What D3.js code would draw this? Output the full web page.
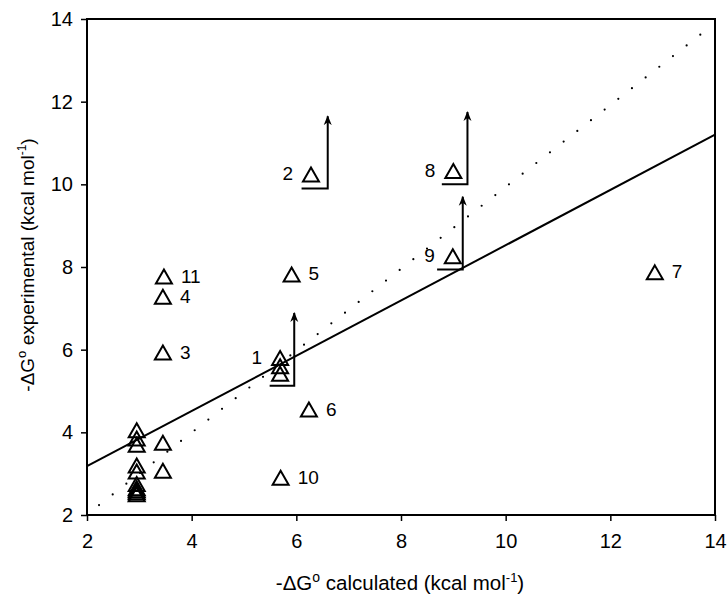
<!DOCTYPE html>
<html>
<head>
<meta charset="utf-8">
<script src="https://cdn.jsdelivr.net/npm/d3@7"></script>
<style>
  body { margin: 0; background: #fff; }
  text { font-family: "Liberation Sans", Arial, sans-serif; fill: #000; }
</style>
</head>
<body>
<div id="canvas"></div>
<script>
// data
const calcX = [2.95, 2.95, 2.95, 2.95, 2.95, 2.95, 2.95, 2.95, 2.95, 2.95, 3.45, 3.45,
               3.47, 3.45, 3.45, 5.69, 5.69, 5.69, 6.28, 5.91, 9.0, 8.99, 12.85, 6.24, 5.70];
const expY  = [4.05, 3.85, 3.7, 3.2, 3.05, 2.75, 2.65, 2.6, 2.55, 2.5, 3.75, 3.07,
               7.77, 7.28, 5.93, 5.8, 5.6, 5.42, 10.24, 7.82, 10.32, 8.26, 7.87, 4.55, 2.9];
const ptLabel = ["", "", "", "", "", "", "", "", "", "", "", "",
                 "11", "4", "3", "1", "", "", "2", "5", "8", "9", "7", "6", "10"];
const labelSide = ["", "", "", "", "", "", "", "", "", "", "", "",
                   "right", "right", "right", "left", "", "", "left", "right", "left", "left", "right", "right", "right"];

// lower-bound markers: horizontal bar under the triangle then arrow up
const boundX0 = [5.49, 6.1, 8.78, 8.69];
const boundX1 = [5.96, 6.6, 9.27, 9.18];
const boundY0 = [5.13, 9.9, 10.0, 7.94];
const boundY1 = [6.89, 11.65, 11.75, 9.7];

// fitted line (solid) and diagonal (dotted)
const fitX = [2, 14];
const fitY = [3.18, 11.2];
const diagX = [2.23, 13.84];
const diagY = [2.24, 13.74];

const xTicks = [2, 4, 6, 8, 10, 12, 14];
const yTicks = [2, 4, 6, 8, 10, 12, 14];

const width = 728;
const height = 596;
const marginLeft = 87;
const marginRight = 13;
const marginTop = 19;
const marginBottom = 81;
const fontSize = 19;

const x = d3.scaleLinear().domain([2, 14]).range([marginLeft, width - marginRight]);
const y = d3.scaleLinear().domain([2, 14]).range([height - marginBottom, marginTop]);

const svg = d3.select("#canvas")
    .append("svg")
    .attr("width", width)
    .attr("height", height)
    .attr("viewBox", [0, 0, width, height]);

// frame
svg.append("rect")
    .attr("x", x(2)).attr("y", y(14))
    .attr("width", x(14) - x(2)).attr("height", y(2) - y(14))
    .attr("fill", "none").attr("stroke", "#000").attr("stroke-width", 2);

// axes
svg.append("g")
    .attr("transform", `translate(0,${y(2)})`)
    .call(d3.axisBottom(x).tickValues(xTicks).tickSize(6).tickPadding(13))
    .call(g => g.select(".domain").remove())
    .call(g => g.selectAll("line").attr("stroke-width", 1.5))
    .call(g => g.selectAll("text").attr("font-size", fontSize + 1).attr("font-family", "Liberation Sans, Arial, sans-serif"));

svg.append("g")
    .attr("transform", `translate(${x(2)},0)`)
    .call(d3.axisLeft(y).tickValues(yTicks).tickSize(6).tickPadding(8))
    .call(g => g.select(".domain").remove())
    .call(g => g.selectAll("line").attr("stroke-width", 1.5))
    .call(g => g.selectAll("text").attr("font-size", fontSize + 1).attr("font-family", "Liberation Sans, Arial, sans-serif"));

// axis titles
const xTitle = svg.append("text")
    .attr("x", 400).attr("y", 590)
    .attr("text-anchor", "middle")
    .attr("font-size", fontSize + 1.5);
xTitle.append("tspan").text("-ΔG");
xTitle.append("tspan").attr("font-size", 14).attr("dy", -8).text("o");
xTitle.append("tspan").attr("dy", 8).text(" calculated (kcal mol");
xTitle.append("tspan").attr("font-size", 13).attr("dy", -8).text("-1");
xTitle.append("tspan").attr("dy", 8).text(")");

const yTitle = svg.append("text")
    .attr("transform", "translate(34,265) rotate(-90)")
    .attr("text-anchor", "middle")
    .attr("font-size", fontSize);
yTitle.append("tspan").text("-ΔG");
yTitle.append("tspan").attr("font-size", 13).attr("dy", -8).text("o");
yTitle.append("tspan").attr("dy", 8).text(" experimental (kcal mol");
yTitle.append("tspan").attr("font-size", 12).attr("dy", -8).text("-1");
yTitle.append("tspan").attr("dy", 8).text(")");

// lines
svg.append("line")
    .attr("x1", x(fitX[0])).attr("y1", y(fitY[0]))
    .attr("x2", x(fitX[1])).attr("y2", y(fitY[1]))
    .attr("stroke", "#000").attr("stroke-width", 2);

svg.append("line")
    .attr("x1", x(diagX[0])).attr("y1", y(diagY[0]))
    .attr("x2", x(diagX[1])).attr("y2", y(diagY[1]))
    .attr("stroke", "#000").attr("stroke-width", 2.2)
    .attr("stroke-linecap", "round")
    .attr("stroke-dasharray", "0 17.35");

// arrow head
svg.append("defs").append("marker")
    .attr("id", "arrow")
    .attr("viewBox", "0 0 10 10")
    .attr("refX", 9).attr("refY", 5)
    .attr("markerWidth", 10).attr("markerHeight", 10)
    .attr("markerUnits", "userSpaceOnUse")
    .attr("orient", "auto")
    .append("path")
    .attr("d", "M0,1 L10,5 L0,9 L3,5 Z")
    .attr("fill", "#000");

const bounds = d3.range(boundX0.length);
svg.append("g")
    .selectAll("path")
    .data(bounds)
    .join("path")
        .attr("d", i => `M${x(boundX0[i])},${y(boundY0[i])}H${x(boundX1[i])}V${y(boundY1[i])}`)
        .attr("fill", "none")
        .attr("stroke", "#000")
        .attr("stroke-width", 2)
        .attr("marker-end", "url(#arrow)");

// points
const points = d3.range(calcX.length);
const tri = "M0,-7 L8,7 L-8,7 Z";
svg.append("g")
    .selectAll("path")
    .data(points)
    .join("path")
        .attr("transform", i => `translate(${x(calcX[i])},${y(expY[i])})`)
        .attr("d", tri)
        .attr("fill", "none")
        .attr("stroke", "#000")
        .attr("stroke-width", 2)
        .attr("stroke-linejoin", "miter");

// labels
svg.append("g")
    .selectAll("text")
    .data(points.filter(i => ptLabel[i] !== ""))
    .join("text")
        .attr("x", i => x(calcX[i]) + (labelSide[i] === "left" ? -18 : 17))
        .attr("y", i => y(expY[i]) + 6)
        .attr("text-anchor", i => labelSide[i] === "left" ? "end" : "start")
        .attr("font-size", fontSize)
        .text(i => ptLabel[i]);
</script>
</body>
</html>
